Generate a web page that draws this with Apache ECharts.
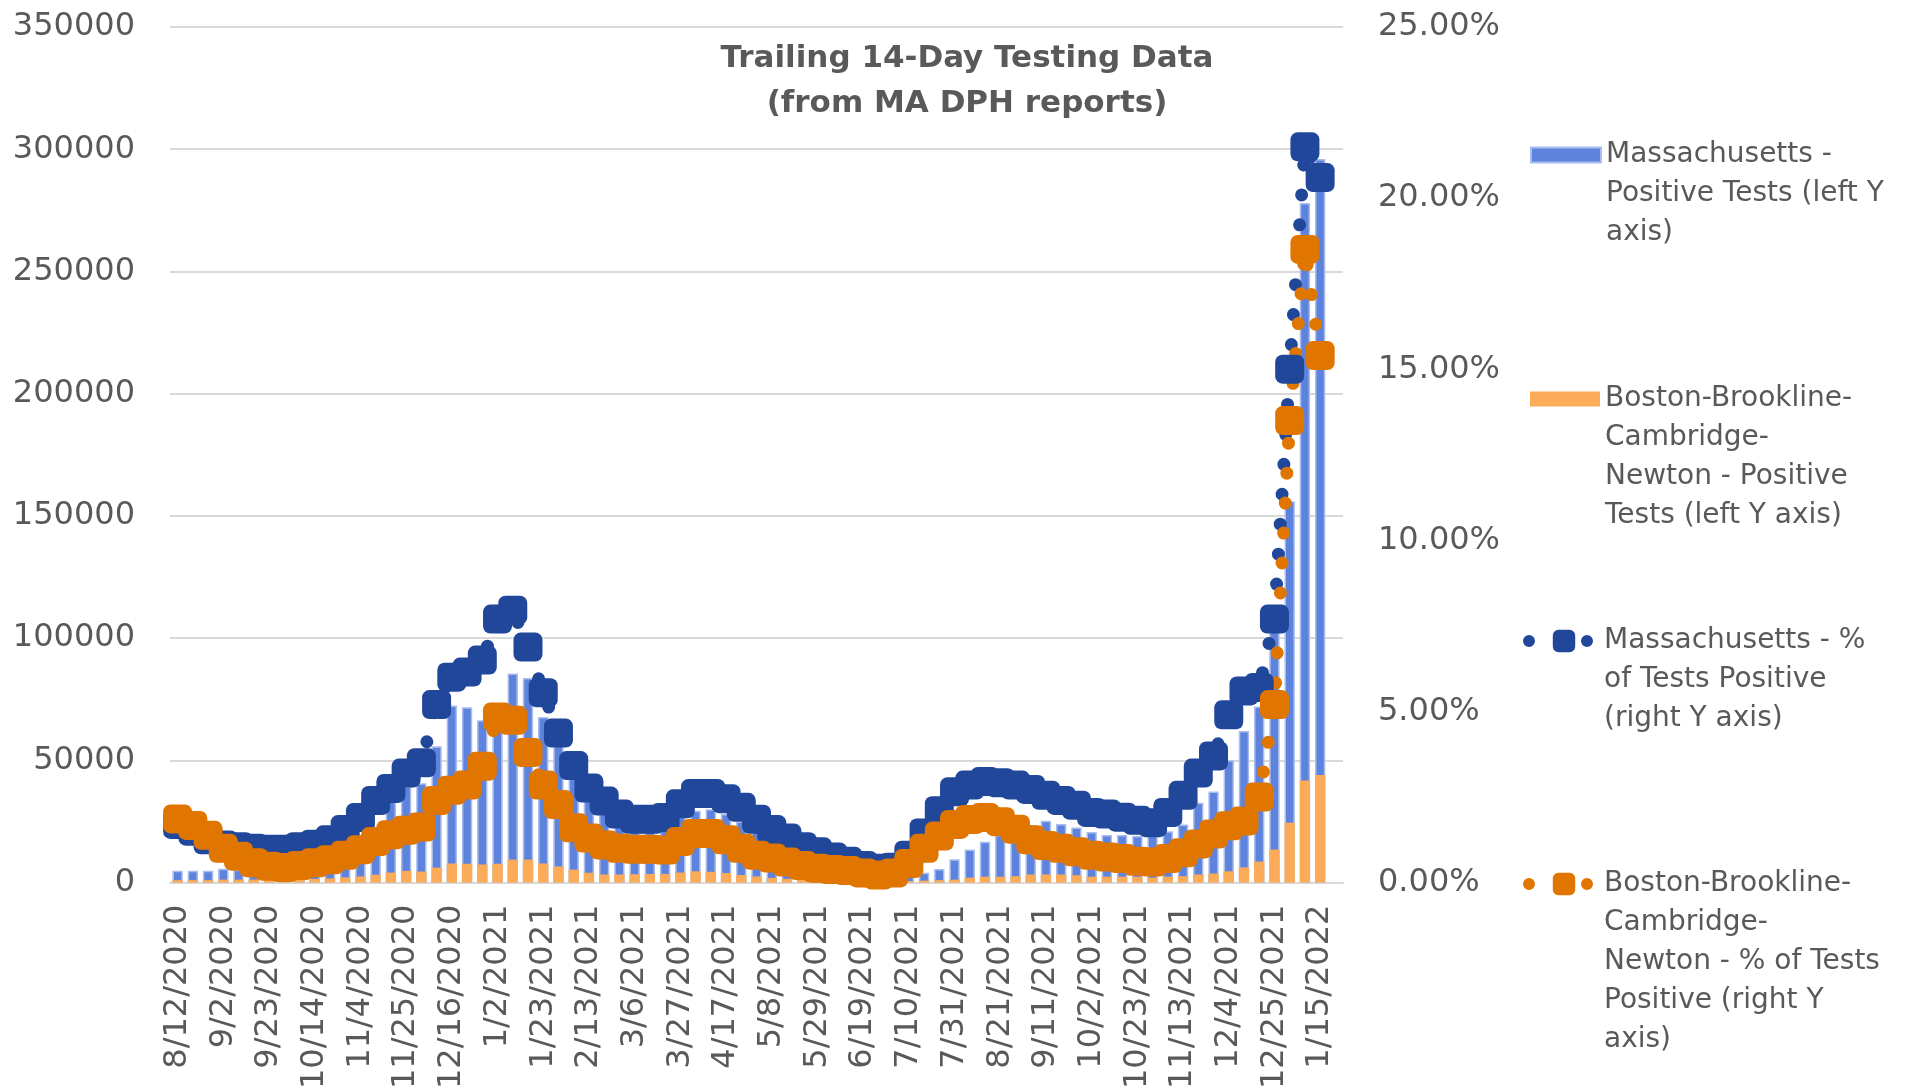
<!DOCTYPE html>
<html>
<head>
<meta charset="utf-8">
<title>Trailing 14-Day Testing Data</title>
<script src="https://cdn.jsdelivr.net/npm/echarts/dist/echarts.min.js"></script>
<style>
  html, body { margin: 0; padding: 0; background: #ffffff; }
  #chart { width: 1919px; height: 1092px; }
</style>
</head>
<body>
<div id="chart"></div>
<script>
// report dates (weekly), only every 3rd one is labelled on the axis
const categories = [
  "8/12/2020", "8/19/2020", "8/26/2020", "9/2/2020", "9/9/2020", "9/16/2020", "9/23/2020", "9/30/2020", "10/7/2020", "10/14/2020",
  "10/21/2020", "10/28/2020", "11/4/2020", "11/11/2020", "11/18/2020", "11/25/2020", "12/2/2020", "12/9/2020", "12/16/2020", "12/23/2020",
  "12/26/2020", "1/2/2021", "1/9/2021", "1/16/2021", "1/23/2021", "1/30/2021", "2/6/2021", "2/13/2021", "2/20/2021", "2/27/2021",
  "3/6/2021", "3/13/2021", "3/20/2021", "3/27/2021", "4/3/2021", "4/10/2021", "4/17/2021", "4/24/2021", "5/1/2021", "5/8/2021",
  "5/15/2021", "5/22/2021", "5/29/2021", "6/5/2021", "6/12/2021", "6/19/2021", "6/26/2021", "7/3/2021", "7/10/2021", "7/17/2021",
  "7/24/2021", "7/31/2021", "8/7/2021", "8/14/2021", "8/21/2021", "8/28/2021", "9/4/2021", "9/11/2021", "9/18/2021", "9/25/2021",
  "10/2/2021", "10/9/2021", "10/16/2021", "10/23/2021", "10/30/2021", "11/6/2021", "11/13/2021", "11/20/2021", "11/27/2021", "12/4/2021",
  "12/11/2021", "12/18/2021", "12/25/2021", "1/1/2022", "1/8/2022", "1/15/2022", "1/22/2022"
];

// trailing 14-day positive tests (left axis)
const maPositiveTests = [
  4800, 4800, 4800, 5600, 5200, 5000, 5200, 5500, 6500, 7500,
  9000, 11000, 14000, 20000, 33400, 39400, 40600, 55800, 72400, 71700,
  66400, 65000, 85500, 83700, 67700, 57000, 47000, 38000, 31000, 26000,
  23000, 22000, 23000, 27400, 29400, 30000, 28000, 25000, 21000, 16000,
  12000, 9000, 6500, 4500, 3000, 2000, 1500, 1600, 2500, 4000,
  5500, 9500, 13500, 16700, 19500, 22000, 23400, 25300, 24000, 22500,
  20700, 19500, 19500, 19000, 19500, 21000, 23800, 32600, 37300, 50000,
  62000, 72000, 110000, 156000, 278000, 296000, null
];
const bbcnPositiveTests = [
  1000, 1000, 1000, 1200, 1200, 1200, 1200, 1200, 1300, 1500,
  1700, 2100, 2500, 3200, 4100, 4800, 4500, 6100, 7800, 7700,
  7400, 7700, 9400, 9400, 7800, 6600, 5300, 4000, 3300, 3300,
  3400, 3500, 3500, 4100, 4600, 4400, 3900, 3100, 2500, 1900,
  1500, 1200, 900, 700, 500, 400, 350, 400, 600, 800,
  1000, 1200, 2000, 2400, 2400, 2600, 3300, 3300, 3300, 3000,
  2400, 2400, 2400, 2400, 2000, 2400, 2600, 3300, 3700, 4600,
  6200, 8600, 13500, 24500, 41800, 44000, null
];

// % of tests positive (right axis), in percent
const maPercentPositive = [
  1.70, 1.50, 1.25, 1.10, 1.05, 1.00, 0.97, 0.97, 1.05, 1.12,
  1.25, 1.55, 1.90, 2.40, 2.75, 3.20, 3.50, 5.20, 6.00, 6.15,
  6.50, 7.70, 7.96, 6.88, 5.55, 4.37, 3.42, 2.76, 2.38, 2.00,
  1.85, 1.85, 1.90, 2.30, 2.60, 2.60, 2.45, 2.20, 1.85, 1.55,
  1.30, 1.05, 0.90, 0.75, 0.62, 0.50, 0.42, 0.45, 0.80, 1.45,
  2.10, 2.65, 2.85, 2.95, 2.92, 2.85, 2.72, 2.55, 2.40, 2.26,
  2.05, 2.00, 1.91, 1.82, 1.75, 2.05, 2.55, 3.20, 3.70, 4.90,
  5.60, 5.70, 7.70, 15.00, 21.50, 20.60, null
];
const bbcnPercentPositive = [
  1.86, 1.67, 1.38, 1.00, 0.77, 0.58, 0.48, 0.44, 0.50, 0.58,
  0.67, 0.80, 0.96, 1.20, 1.40, 1.53, 1.62, 2.40, 2.70, 2.85,
  3.40, 4.84, 4.74, 3.80, 2.85, 2.28, 1.60, 1.30, 1.10, 1.00,
  0.97, 0.97, 0.95, 1.20, 1.43, 1.43, 1.25, 1.00, 0.80, 0.72,
  0.60, 0.50, 0.42, 0.38, 0.35, 0.28, 0.22, 0.28, 0.56, 1.00,
  1.36, 1.70, 1.84, 1.90, 1.78, 1.56, 1.25, 1.08, 1.00, 0.90,
  0.80, 0.75, 0.70, 0.62, 0.60, 0.70, 0.87, 1.13, 1.42, 1.66,
  1.80, 2.50, 5.20, 13.50, 18.50, 15.40, null
];

const seriesNames = [
  "Massachusetts - Positive Tests (left Y axis)",
  "Boston-Brookline-Cambridge-Newton - Positive Tests (left Y axis)",
  "Massachusetts - % of Tests Positive (right Y axis)",
  "Boston-Brookline-Cambridge-Newton - % of Tests Positive (right Y axis)"
];
// wrapped legend text, as in the original
const legendLines = [
  ["Massachusetts -", "Positive Tests (left Y", "axis)"],
  ["Boston-Brookline-", "Cambridge-", "Newton - Positive", "Tests (left Y axis)"],
  ["Massachusetts - %", "of Tests Positive", "(right Y axis)"],
  ["Boston-Brookline-", "Cambridge-", "Newton - % of Tests", "Positive (right Y", "axis)"]
];
const legendIconY = [155, 399, 641, 884];

const textColor = "#595959";
const fontFamily = "DejaVu Sans";
const LINE_H = 39;

const colors = {
  maBar: "#5E83DC",
  bbBar: "#FCAC58",
  maLine: "#21479B",
  bbLine: "#E07600",
};

// one legend per entry so every entry can sit where it is in the picture.
// legend text is centred on the icon, so blank lines are put on top
// to bring the icon level with the first text line
const legends = seriesNames.map((name, k) => {
  const n = legendLines[k].length;
  const isLine = k >= 2;
  return {
    data: [name],
    orient: "vertical",
    left: isLine ? 1518 : 1525,
    top: legendIconY[k] - ((2 * n - 1) * LINE_H) / 2 - 5,
    itemWidth: 70,
    itemHeight: isLine ? 28 : 15,
    icon: isLine ? undefined : "rect",
    selectedMode: false,
    lineStyle: isLine ? { width: 12, type: [0, 58], cap: "round" } : undefined,
    formatter: () => "\n".repeat(n - 1) + legendLines[k].join("\n"),
    textStyle: {
      color: textColor,
      fontFamily: fontFamily,
      fontSize: 28,
      lineHeight: LINE_H,
    },
  };
});

const option = {
  backgroundColor: "#ffffff",
  animation: false,
  title: {
    text: "Trailing 14-Day Testing Data\n(from MA DPH reports)",
    left: 962,
    top: 31,
    textAlign: "center",
    textStyle: {
      color: textColor,
      fontFamily: fontFamily,
      fontWeight: "bold",
      fontSize: 31,
      lineHeight: 45,
    },
  },
  legend: legends,
  grid: {
    left: 170,
    right: 576,
    top: 27,
    bottom: 185,
    containLabel: false,
  },
  xAxis: {
    type: "category",
    data: categories,
    boundaryGap: true,
    axisLine: { lineStyle: { color: "#D9D9D9", width: 2 } },
    axisTick: { show: false },
    axisLabel: {
      interval: 2,
      rotate: 90,
      margin: 22,
      color: textColor,
      fontFamily: fontFamily,
      fontSize: 32,
    },
  },
  yAxis: [
    {
      type: "value",
      min: 0,
      max: 350000,
      interval: 50000,
      axisLine: { show: false },
      axisTick: { show: false },
      axisLabel: {
        margin: 35,
        color: textColor,
        fontFamily: fontFamily,
        fontSize: 32,
        formatter: (v) => String(v),
      },
      splitLine: { lineStyle: { color: "#D9D9D9", width: 2 } },
    },
    {
      type: "value",
      min: 0,
      max: 25,
      interval: 5,
      axisLine: { show: false },
      axisTick: { show: false },
      splitLine: { show: false },
      axisLabel: {
        margin: 35,
        color: textColor,
        fontFamily: fontFamily,
        fontSize: 32,
        formatter: (v) => v.toFixed(2) + "%",
      },
    },
  ],
  series: [
    {
      name: seriesNames[0],
      type: "bar",
      yAxisIndex: 0,
      data: maPositiveTests,
      barWidth: "68%",
      itemStyle: {
        color: colors.maBar,
        borderColor: "#A9BDEE",
        borderWidth: 1.5,
      },
    },
    {
      name: seriesNames[1],
      type: "bar",
      yAxisIndex: 0,
      data: bbcnPositiveTests,
      barWidth: "68%",
      barGap: "-100%",
      itemStyle: { color: colors.bbBar },
    },
    {
      name: seriesNames[2],
      type: "line",
      yAxisIndex: 1,
      data: maPercentPositive,
      symbol: "roundRect",
      symbolSize: 29,
      showAllSymbol: true,
      itemStyle: { color: colors.maLine },
      lineStyle: { color: colors.maLine, width: 13, type: [0, 30], cap: "round" },
    },
    {
      name: seriesNames[3],
      type: "line",
      yAxisIndex: 1,
      data: bbcnPercentPositive,
      symbol: "roundRect",
      symbolSize: 29,
      showAllSymbol: true,
      itemStyle: { color: colors.bbLine },
      lineStyle: { color: colors.bbLine, width: 13, type: [0, 30], cap: "round" },
    },
  ],
};

const chart = echarts.init(document.getElementById("chart"));
chart.setOption(option);
</script>
</body>
</html>
